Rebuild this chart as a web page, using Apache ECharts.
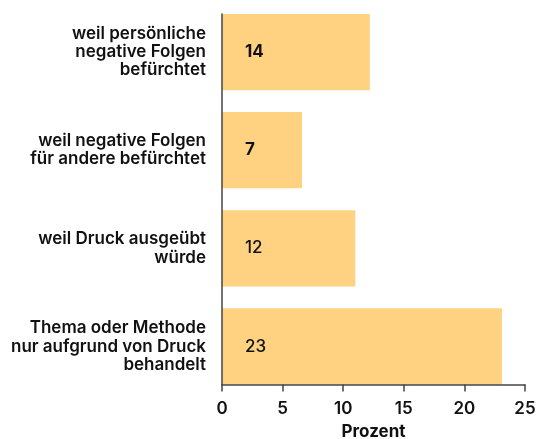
<!DOCTYPE html>
<html><head><meta charset="utf-8">
<script src="https://cdn.jsdelivr.net/npm/echarts@6/dist/echarts.min.js"></script>
<style>html,body{margin:0;padding:0;background:#fff}#c{width:537px;height:439px}</style>
</head><body><div id="c"></div>
<script>
const categories = [
  "weil persönliche\nnegative Folgen\nbefürchtet",
  "weil negative Folgen\nfür andere befürchtet",
  "weil Druck ausgeübt\nwürde",
  "Thema oder Methode\nnur aufgrund von Druck\nbehandelt"
];
const values = [12.2, 6.6, 11.0, 23.1];
const valueLabels = ["14", "7", "12", "23"];
const labelBold = [true, true, false, false];
const xMin = 0, xMax = 25, xInterval = 5;
const xTitle = "Prozent";

const FONT = "Inter, 'Noto Sans', sans-serif";
const chart = echarts.init(document.getElementById('c'), null, {renderer: 'canvas'});
chart.setOption({
  animation: false,
  textStyle: {fontFamily: FONT},
  grid: [
    {left: 222, right: 12, top: 3, bottom: 43.5, outerBoundsMode: 'none', containLabel: false},
    {left: 222, right: 12, top: 14, bottom: 54.5, outerBoundsMode: 'none', containLabel: false}
  ],
  xAxis: [
    {gridIndex: 0, type: 'value', min: xMin, max: xMax, interval: xInterval, show: false},
    {gridIndex: 1, type: 'value', min: xMin, max: xMax, interval: xInterval, z: 5,
     axisLine: {show: true, lineStyle: {color: '#444', width: 1.5}},
     axisTick: {show: true, length: 7, lineStyle: {color: '#444', width: 1.5}},
     splitLine: {show: false},
     axisLabel: {color: '#111', fontSize: 17, fontWeight: 600, margin: 16, fontFamily: FONT},
     name: xTitle, nameLocation: 'middle', nameGap: 39,
     nameTextStyle: {color: '#111', fontSize: 17, fontWeight: 700, fontFamily: FONT}}
  ],
  yAxis: [
    {gridIndex: 0, type: 'category', data: categories, inverse: true,
     axisLine: {show: false}, axisTick: {show: false},
     axisLabel: {color: '#111', fontSize: 17, fontWeight: 600, lineHeight: 18.3, margin: 16, align: 'right', fontFamily: FONT}},
    {gridIndex: 1, type: 'category', data: categories, inverse: true, z: 5,
     axisLine: {show: true, lineStyle: {color: '#444', width: 1.5}},
     axisTick: {show: false}, axisLabel: {show: false}}
  ],
  series: [{
    type: 'bar', xAxisIndex: 0, yAxisIndex: 0,
    barCategoryGap: '22.3%',
    data: values.map((v, i) => ({
      value: v,
      label: {fontWeight: labelBold[i] ? 700 : 500}
    })),
    itemStyle: {color: '#fed281'},
    label: {
      show: true, position: 'insideLeft', distance: 23,
      color: '#111', fontSize: 17, fontFamily: FONT,
      formatter: p => valueLabels[p.dataIndex]
    }
  }]
});
</script></body></html>
